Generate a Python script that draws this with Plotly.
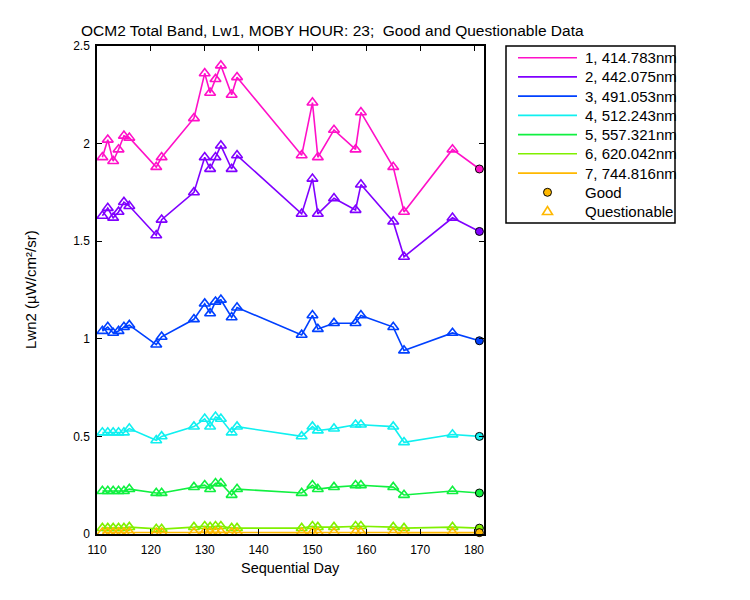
import plotly.graph_objects as go

days = [111, 112, 113, 114, 115, 116, 121, 122, 128, 130, 131, 132, 133, 135, 136,
        148, 150, 151, 154, 158, 159, 165, 167, 176, 181]

band1 = [1.93, 2.02, 1.91, 1.97, 2.04, 2.03, 1.88, 1.93, 2.13, 2.36, 2.26, 2.33, 2.40, 2.25, 2.34,
         1.94, 2.21, 1.93, 2.07, 1.97, 2.16, 1.88, 1.65, 1.97, 1.87]
band2 = [1.63, 1.67, 1.62, 1.65, 1.70, 1.68, 1.53, 1.61, 1.75, 1.93, 1.87, 1.93, 1.99, 1.87, 1.94,
         1.64, 1.82, 1.64, 1.72, 1.66, 1.79, 1.60, 1.42, 1.62, 1.55]
band3 = [1.04, 1.06, 1.03, 1.04, 1.06, 1.07, 0.97, 1.01, 1.10, 1.18, 1.13, 1.19, 1.20, 1.11, 1.16,
         1.02, 1.12, 1.05, 1.08, 1.08, 1.12, 1.06, 0.94, 1.03, 0.99]
band4 = [0.52, 0.52, 0.52, 0.52, 0.52, 0.54, 0.48, 0.50, 0.55, 0.59, 0.55, 0.60, 0.59, 0.52, 0.55,
         0.50, 0.55, 0.53, 0.54, 0.56, 0.56, 0.55, 0.47, 0.51, 0.50]
band5 = [0.22, 0.22, 0.22, 0.22, 0.22, 0.23, 0.21, 0.21, 0.24, 0.25, 0.23, 0.26, 0.26, 0.20, 0.23,
         0.21, 0.25, 0.23, 0.24, 0.25, 0.25, 0.24, 0.20, 0.22, 0.21]
band6 = [0.030, 0.030, 0.030, 0.030, 0.030, 0.035, 0.025, 0.025, 0.035, 0.040, 0.035, 0.040, 0.040, 0.030, 0.030,
         0.030, 0.040, 0.035, 0.035, 0.040, 0.040, 0.035, 0.030, 0.035, 0.030]
band7 = [0.008, 0.008, 0.007, 0.008, 0.008, 0.008, 0.006, 0.007, 0.008, 0.010, 0.009, 0.010, 0.010, 0.008, 0.008,
         0.007, 0.009, 0.008, 0.008, 0.009, 0.009, 0.008, 0.007, 0.008, 0.007]

# quality flag per day: Q = questionable, G = good
quality = ["Q"] * 24 + ["G"]

band_names = ["1, 414.783nm", "2, 442.075nm", "3, 491.053nm", "4, 512.243nm",
              "5, 557.321nm", "6, 620.042nm", "7, 744.816nm"]
band_colors = ["#FF10C8", "#8000FF", "#0040FF", "#10F0F0", "#10F040", "#80F000", "#FFB800"]
series = [band1, band2, band3, band4, band5, band6, band7]

x_ticks = [110, 120, 130, 140, 150, 160, 170, 180]
y_ticks = [0, 0.5, 1, 1.5, 2, 2.5]
y_tick_text = ["0", "0.5", "1", "1.5", "2", "2.5"]

FONT = "Liberation Sans, Arial, sans-serif"
W, H = 750, 600
OFF = 8  # page body offset of the rendered figure
L, R, T, B = 97, 484, 46, 534  # plot area in screenshot pixels


def px(xp):
    return (xp - L) / (R - L)


def py(yp):
    return (B - yp) / (B - T)


fig = go.Figure()
for vals, name, col in zip(series, band_names, band_colors):
    fig.add_trace(go.Scatter(x=days, y=vals, mode="lines", name=name,
                             line=dict(color=col, width=1.6), showlegend=False,
                             cliponaxis=False))
    qx = [d for d, q in zip(days, quality) if q == "Q"]
    qy = [v for v, q in zip(vals, quality) if q == "Q"]
    gx = [d for d, q in zip(days, quality) if q == "G"]
    gy = [v for v, q in zip(vals, quality) if q == "G"]
    fig.add_trace(go.Scatter(x=qx, y=qy, mode="markers", showlegend=False,
                             marker=dict(symbol="triangle-up-open", size=9.5, color=col,
                                         line=dict(color=col, width=1.6)),
                             cliponaxis=False))
    fig.add_trace(go.Scatter(x=gx, y=gy, mode="markers", showlegend=False,
                             marker=dict(symbol="circle", size=8, color=col,
                                         line=dict(color="black", width=1)),
                             cliponaxis=False))

shapes = []
annotations = []

# legend box
lx0, lx1, ly0, ly1 = 506, 675, 46, 223
shapes.append(dict(type="rect", xref="paper", yref="paper",
                   x0=px(lx0), x1=px(lx1), y0=py(ly1), y1=py(ly0),
                   line=dict(color="black", width=1.5), fillcolor="rgba(0,0,0,0)"))
row_y = [57.7, 76.9, 96.1, 115.4, 134.6, 153.8, 173.1, 192.3, 211.5]
for i, (name, col) in enumerate(zip(band_names, band_colors)):
    yy = py(row_y[i])
    shapes.append(dict(type="line", xref="paper", yref="paper",
                       x0=px(518), x1=px(577), y0=yy, y1=yy,
                       line=dict(color=col, width=1.6)))
    annotations.append(dict(x=px(583), y=yy, xref="paper", yref="paper", text=name,
                            showarrow=False, xanchor="left", yanchor="middle",
                            font=dict(family=FONT, size=15, color="black")))
# Good / Questionable entries
gy_ = py(row_y[7])
shapes.append(dict(type="circle", xref="paper", yref="paper",
                   xsizemode="pixel", ysizemode="pixel", xanchor=px(547.5), yanchor=gy_,
                   x0=-4, x1=4, y0=-4, y1=4,
                   fillcolor=band_colors[6], line=dict(color="black", width=1)))
annotations.append(dict(x=px(583), y=gy_, xref="paper", yref="paper", text="Good",
                        showarrow=False, xanchor="left", yanchor="middle",
                        font=dict(family=FONT, size=15, color="black")))
qy_ = py(row_y[8])
shapes.append(dict(type="path", xref="paper", yref="paper",
                   xsizemode="pixel", ysizemode="pixel", xanchor=px(547.5), yanchor=qy_,
                   path="M-5,-3 L5,-3 L0,5 Z",
                   fillcolor="rgba(0,0,0,0)", line=dict(color=band_colors[6], width=1.6)))
annotations.append(dict(x=px(583), y=qy_, xref="paper", yref="paper", text="Questionable",
                        showarrow=False, xanchor="left", yanchor="middle",
                        font=dict(family=FONT, size=15, color="black")))

# title and axis labels
annotations.append(dict(x=px(332), y=py(31), xref="paper", yref="paper",
                        text="OCM2 Total Band, Lw1, MOBY HOUR: 23;  Good and Questionable Data",
                        showarrow=False, xanchor="center", yanchor="middle",
                        font=dict(family=FONT, size=15.5, color="black")))
annotations.append(dict(x=px(290), y=py(568), xref="paper", yref="paper",
                        text="Sequential Day", showarrow=False, xanchor="center", yanchor="middle",
                        font=dict(family=FONT, size=14.5, color="black")))
annotations.append(dict(x=px(30), y=py(290), xref="paper", yref="paper",
                        text="Lwn2 (µW/cm²/sr)", textangle=-90, showarrow=False,
                        xanchor="center", yanchor="middle",
                        font=dict(family=FONT, size=15, color="black")))

axis_common = dict(showline=True, linecolor="black", linewidth=1.5, mirror="ticks",
                   ticks="inside", ticklen=5, tickwidth=1, tickcolor="black",
                   showgrid=False, zeroline=False,
                   tickfont=dict(family=FONT, size=12, color="black"))

fig.update_layout(
    width=W, height=H,
    margin=dict(l=L - OFF, r=W - (R - OFF), t=T - OFF, b=H - (B - OFF), pad=0),
    paper_bgcolor="white", plot_bgcolor="white",
    showlegend=False,
    xaxis=dict(range=[110, 181.85], tickvals=x_ticks, ticklabelstandoff=4, **axis_common),
    yaxis=dict(range=[0, 2.5], tickvals=y_ticks, ticktext=y_tick_text, ticklabelstandoff=3,
               **axis_common),
    shapes=shapes, annotations=annotations,
)

fig.write_html("out.html")
